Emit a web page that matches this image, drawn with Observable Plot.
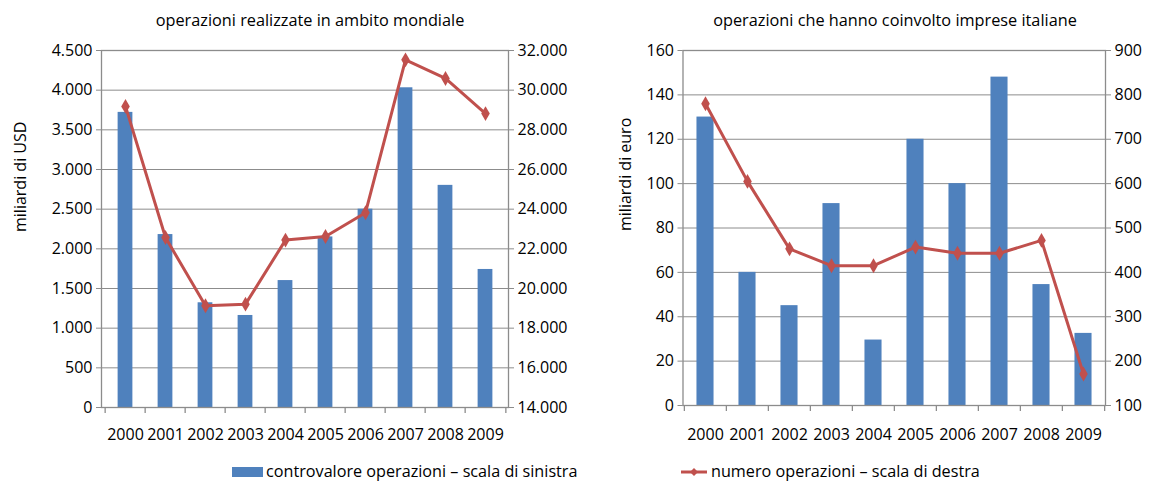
<!DOCTYPE html>
<html>
<head>
<meta charset="utf-8">
<script src="https://cdn.jsdelivr.net/npm/d3@7"></script>
<script src="https://cdn.jsdelivr.net/npm/@observablehq/plot@0.6"></script>
<style>
  body { margin: 0; background: #fff; }
  #wrap { position: relative; width: 1152px; height: 482px; font-family: "Open Sans", sans-serif; color: #000; overflow: hidden; }
  .title { position: absolute; top: 10px; transform: translateX(-50%); font-size: 16.3px; line-height: 20px; white-space: nowrap; }
  .panel { position: absolute; top: 0; }
  .legtext { position: absolute; font-size: 16.2px; line-height: 20px; white-space: nowrap; top: 461px; }
</style>
</head>
<body>
<div id="wrap">
  <div class="title" style="left:310px">operazioni realizzate in ambito mondiale</div>
  <div class="title" style="left:895px">operazioni che hanno coinvolto imprese italiane</div>
  <div class="panel" id="left" style="left:0"></div>
  <div class="panel" id="right" style="left:576px"></div>
  <div style="position:absolute;left:232px;top:467px;width:31px;height:10px;background:#4F81BD"></div>
  <div class="legtext" style="left:266px">controvalore operazioni – scala di sinistra</div>
  <svg style="position:absolute;left:679px;top:464px" width="30" height="16">
    <line x1="2" x2="28" y1="8" y2="8" stroke="#C0504D" stroke-width="3"/>
    <path d="M15,4 L19,8 L15,12 L11,8 Z" fill="#C0504D"/>
  </svg>
  <div class="legtext" style="left:711px">numero operazioni – scala di destra</div>
</div>
<script>
const years = ["2000", "2001", "2002", "2003", "2004", "2005", "2006", "2007", "2008", "2009"];

// operazioni realizzate in ambito mondiale
const worldValue = [3720, 2180, 1320, 1160, 1600, 2150, 2500, 4030, 2800, 1740]; // miliardi di USD
const worldCount = [29180, 22570, 19130, 19210, 22440, 22620, 23820, 31530, 30590, 28820];
const worldLeftTicks = [0, 500, 1000, 1500, 2000, 2500, 3000, 3500, 4000, 4500];
const worldRightTicks = [14000, 16000, 18000, 20000, 22000, 24000, 26000, 28000, 30000, 32000];

// operazioni che hanno coinvolto imprese italiane
const italyValue = [130, 60, 45, 91, 29.5, 120, 100, 148, 54.5, 32.5]; // miliardi di euro
const italyCount = [780, 605, 453, 415, 415, 457, 443, 443, 472, 171];
const italyLeftTicks = [0, 20, 40, 60, 80, 100, 120, 140, 160];
const italyRightTicks = [100, 200, 300, 400, 500, 600, 700, 800, 900];

const fmt = d3.formatLocale({decimal: ",", thousands: ".", grouping: [3], currency: ["", ""]}).format(",d");

const BLUE = "#4F81BD", RED = "#C0504D", GRAY = "#8c8c8c";
const FS = 16;

function panel({values, counts, leftTicks, rightTicks, label, marginLeft, marginRight, marginBottom, labelX, barRatio}) {
  const width = 576, height = 450, marginTop = 50;
  const l0 = leftTicks[0], l1 = leftTicks[leftTicks.length - 1];
  const r0 = rightTicks[0], r1 = rightTicks[rightTicks.length - 1];
  const toLeft = v => (v - r0) / (r1 - r0) * (l1 - l0) + l0;
  const toRight = v => (v - l0) / (l1 - l0) * (r1 - r0) + r0;
  const bw = (width - marginLeft - marginRight) / years.length;
  const inset = bw * (1 - barRatio) / 2;
  const data = years.map((year, i) => ({year, value: values[i], count: counts[i]}));
  const labelY = 434 - (height - marginBottom); // centre of x labels
  return Plot.plot({
    width, height, marginTop, marginBottom, marginLeft, marginRight,
    style: {fontFamily: "'Open Sans', sans-serif", fontSize: FS + "px", color: "#000", background: "transparent", overflow: "visible"},
    x: {domain: years, padding: 0},
    y: {domain: [l0, l1]},
    marks: [
      Plot.gridY(leftTicks, {stroke: GRAY, strokeOpacity: 1, strokeWidth: 1}),
      Plot.barY(data, {x: "year", y: "value", fill: BLUE, insetLeft: inset, insetRight: inset}),
      Plot.frame({stroke: GRAY, strokeWidth: 1.3}),
      Plot.ruleX(years, {x: d => d, dx: -bw / 2, y1: l0, y2: l0, insetBottom: -6, stroke: GRAY, strokeWidth: 1.3}),
      Plot.ruleX([years[years.length - 1]], {x: d => d, dx: bw / 2, y1: l0, y2: l0, insetBottom: -6, stroke: GRAY, strokeWidth: 1.3}),
      Plot.axisY(leftTicks, {anchor: "left", tickSize: 5, tickPadding: 4, tickFormat: fmt, stroke: GRAY, label: null, fontSize: FS}),
      Plot.axisY(rightTicks.map(toLeft), {anchor: "right", tickSize: 5, tickPadding: 4, tickFormat: v => fmt(Math.round(toRight(v))), stroke: GRAY, label: null, fontSize: FS}),
      Plot.axisX({anchor: "bottom", tickSize: 0, tickPadding: labelY - FS * 0.36, label: null, fontSize: FS}),
      Plot.text([label], {frameAnchor: "left", rotate: -90, dx: labelX - marginLeft, dy: 3, fontSize: FS}),
      Plot.line(data, {x: "year", y: d => toLeft(d.count), stroke: RED, strokeWidth: 3}),
      Plot.dot(data, {x: "year", y: d => toLeft(d.count), symbol: "diamond", r: 4.5, fill: RED})
    ]
  });
}

document.getElementById("left").appendChild(panel({
  values: worldValue, counts: worldCount, leftTicks: worldLeftTicks, rightTicks: worldRightTicks,
  label: "miliardi di USD", marginLeft: 101, marginRight: 68, marginBottom: 43, labelX: 20, barRatio: 0.38
}));
document.getElementById("right").appendChild(panel({
  values: italyValue, counts: italyCount, leftTicks: italyLeftTicks, rightTicks: italyRightTicks,
  label: "miliardi di euro", marginLeft: 106.5, marginRight: 47, marginBottom: 45, labelX: 49, barRatio: 0.41
}));
</script>
</body>
</html>
